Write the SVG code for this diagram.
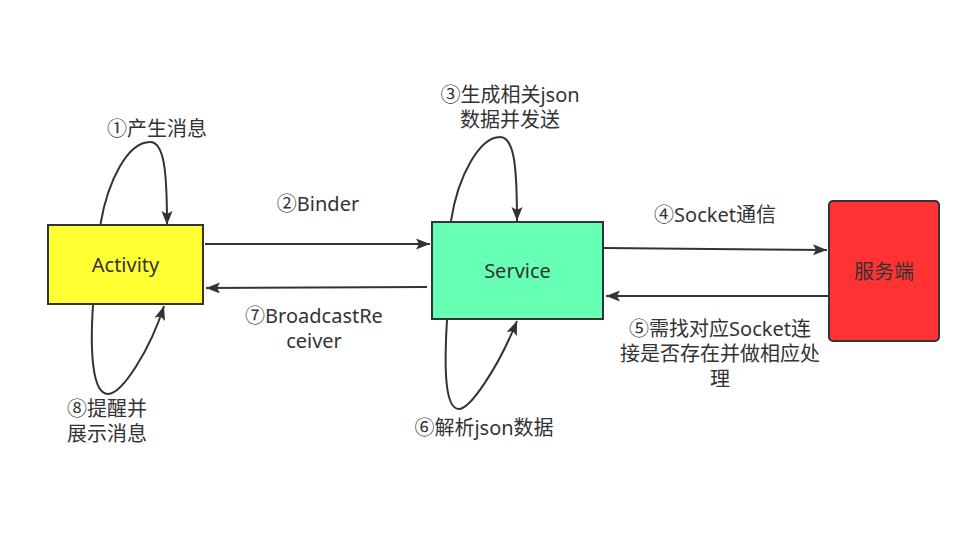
<svg xmlns="http://www.w3.org/2000/svg" width="971" height="537" viewBox="0 0 971 537">
<style>
  .node { stroke: #333333; stroke-width: 2; }
  .edge { fill: none; stroke: #333333; stroke-width: 2; marker-end: url(#arrow); }
  text { font-family: "Noto Sans", "Noto Sans CJK SC", sans-serif; font-size: 20px; fill: #333333; text-anchor: middle; }
</style>
<defs>
  <marker id="arrow" markerUnits="userSpaceOnUse" markerWidth="16" markerHeight="12" refX="14" refY="5.5" orient="auto">
    <path d="M0,0 L14,5.5 L0,11 L3,5.5 z" fill="#333333"/>
  </marker>
</defs>
<rect width="971" height="537" fill="#ffffff"/>
<g id="edges">
  <path class="edge" d="M205,244 L430,244"/>
  <path class="edge" d="M427,287 L206,288"/>
  <path class="edge" d="M604,248 L827,250"/>
  <path class="edge" d="M828,296 L606,296"/>
  <path class="edge" d="M100.5,224 C108,180 128,142 150,142 C164,142 167,170 167,225"/>
  <path class="edge" d="M93,305 C90,350 92,394 108,394 C122,394 150,350 164,306"/>
  <path class="edge" d="M451,221 C458,175 480,137 500,137 C514,137 517,165 517,221"/>
  <path class="edge" d="M447,320 C444,370 445,409 459,409 C470,409 498,368 517,321"/>
</g>
<g id="labels">
  <text x="157" y="136">①产生消息</text>
  <text x="318" y="211">②Binder</text>
  <text x="314" y="323">⑦BroadcastRe</text>
  <text x="314" y="348">ceiver</text>
  <text x="510" y="102">③生成相关json</text>
  <text x="510" y="127">数据并发送</text>
  <text x="715" y="222">④Socket通信</text>
  <text x="720" y="336">⑤需找对应Socket连</text>
  <text x="720" y="361">接是否存在并做相应处</text>
  <text x="720" y="386">理</text>
  <text x="484" y="435">⑥解析json数据</text>
  <text x="107" y="416">⑧提醒并</text>
  <text x="107" y="441">展示消息</text>
</g>
<g id="activity">
  <rect class="node" x="48" y="225" width="155" height="79" fill="#ffff33"/>
  <text x="125.5" y="272">Activity</text>
</g>
<g id="service">
  <rect class="node" x="432" y="222" width="171" height="97" fill="#66ffb3"/>
  <text x="517.5" y="278">Service</text>
</g>
<g id="server">
  <rect class="node" x="829" y="201" width="110" height="140" rx="4" fill="#ff3333"/>
  <text x="884" y="279">服务端</text>
</g>
</svg>
